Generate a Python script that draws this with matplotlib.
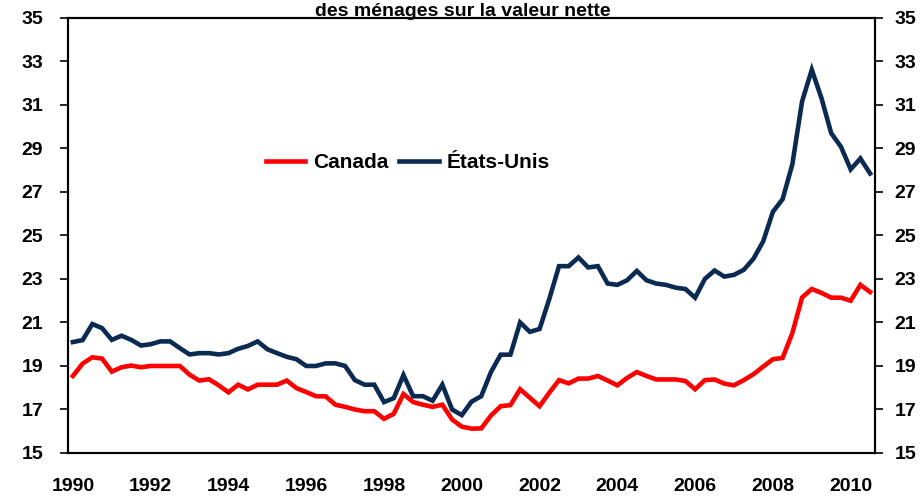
import numpy as np
import pandas as pd
import matplotlib
matplotlib.use('Agg')
import matplotlib.pyplot as plt

plt.rcParams['font.family'] = ['Liberation Sans', 'DejaVu Sans']

# quarterly series, 1990Q1 - 2010Q3
quarters = pd.period_range('1990Q1', '2010Q3', freq='Q')

canada = [18.54, 19.11, 19.40, 19.34, 18.74, 18.94, 19.02, 18.94, 19.00, 19.00,
          19.00, 19.00, 18.60, 18.33, 18.39, 18.11, 17.79, 18.14, 17.92, 18.14,
          18.14, 18.14, 18.33, 17.98, 17.80, 17.61, 17.60, 17.22, 17.12, 17.00,
          16.92, 16.92, 16.57, 16.80, 17.71, 17.34, 17.22, 17.12, 17.22, 16.54,
          16.21, 16.12, 16.13, 16.72, 17.15, 17.20, 17.93, 17.54, 17.15, 17.77,
          18.35, 18.20, 18.42, 18.42, 18.54, 18.33, 18.11, 18.45, 18.72, 18.54,
          18.38, 18.38, 18.38, 18.31, 17.93, 18.35, 18.38, 18.19, 18.11, 18.35,
          18.62, 18.97, 19.31, 19.37, 20.51, 22.15, 22.54, 22.36, 22.14, 22.14,
          22.00, 22.73, 22.40]

etats_unis = [20.10, 20.19, 20.93, 20.74, 20.20, 20.39, 20.20, 19.94, 20.00, 20.13,
              20.13, 19.82, 19.53, 19.59, 19.59, 19.53, 19.59, 19.79, 19.92, 20.13,
              19.77, 19.59, 19.42, 19.31, 19.00, 19.00, 19.12, 19.12, 19.00, 18.35,
              18.14, 18.14, 17.34, 17.52, 18.58, 17.61, 17.61, 17.40, 18.14, 17.00,
              16.74, 17.36, 17.61, 18.72, 19.52, 19.52, 21.00, 20.57, 20.70, 22.08,
              23.59, 23.59, 23.99, 23.53, 23.59, 22.79, 22.73, 22.94, 23.37, 22.94,
              22.79, 22.73, 22.60, 22.54, 22.14, 23.00, 23.39, 23.11, 23.19, 23.42,
              23.93, 24.73, 26.09, 26.67, 28.27, 31.16, 32.62, 31.31, 29.70, 29.08,
              28.04, 28.54, 27.85]

year_ticks = list(range(1990, 2011, 2))
y_ticks = list(range(15, 36, 2))

x = quarters.year + (quarters.quarter - 1) / 4

fig = plt.figure(figsize=(9.22, 4.98), dpi=100)
ax = fig.add_axes([0.0738, 0.0904, 0.8752, 0.8735])

ax.plot(x, canada, color='#FF0000', lw=3.3, label='Canada', solid_joinstyle='miter')
ax.plot(x, etats_unis, color='#0A2A52', lw=3.3, label='États-Unis', solid_joinstyle='miter')

ax.set_xlim(1990 - 0.125, 2010.625)
ax.set_ylim(15, 35)
ax.set_yticks(y_ticks)
ax.set_xticks(year_ticks)
ax.set_xticklabels([str(y) for y in year_ticks])
ax.tick_params(axis='x', length=0, pad=18, labelsize=14)
ax.tick_params(axis='y', direction='out', length=6, width=1.2, labelsize=14, pad=12)

# right-hand axis, same scale
ax2 = ax.twinx()
ax2.set_ylim(15, 35)
ax2.set_yticks(y_ticks)
ax2.tick_params(axis='y', direction='out', length=6, width=1.2, labelsize=14, pad=8)

for lab in ax.get_xticklabels() + ax.get_yticklabels() + ax2.get_yticklabels():
    lab.set_fontweight('bold')
for a in (ax, ax2):
    for s in a.spines.values():
        s.set_linewidth(1.5)

leg = ax.legend(loc='center left', bbox_to_anchor=(0.245, 0.667), ncol=2,
                frameon=False, handlelength=1.9, columnspacing=0.5, handletextpad=0.38,
                borderpad=0, borderaxespad=0, prop={'weight': 'bold', 'size': 15})

fig.text(0.502, 1 - 16 / 498, 'des ménages sur la valeur nette', ha='center', va='baseline',
         fontsize=14, fontweight='bold')

fig.savefig('out.png', dpi=100)
